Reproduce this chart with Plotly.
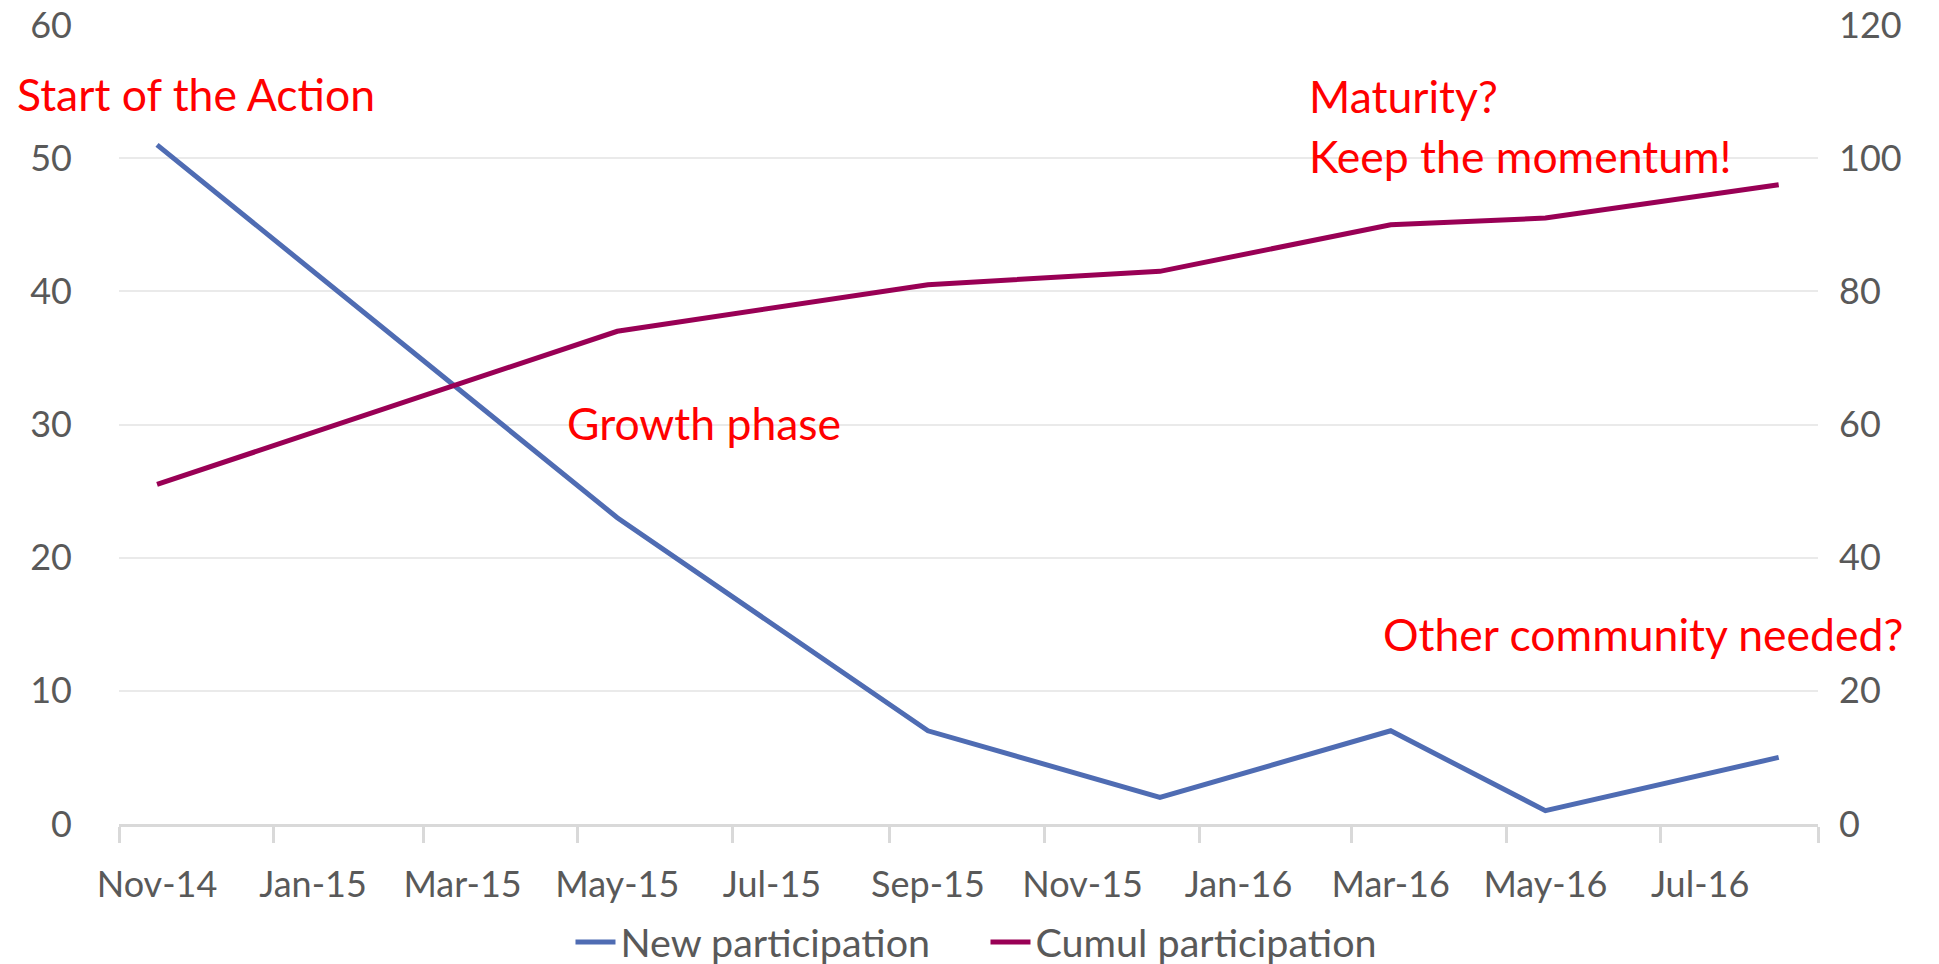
import pandas as pd
import plotly.graph_objects as go

# ---- data ----
months = ["2014-11", "2015-05", "2015-09", "2015-12", "2016-03", "2016-05", "2016-08"]
new_participation = [51, 23, 7, 2, 7, 1, 5]
cumul_participation = [51, 74, 81, 83, 90, 91, 96]
tick_months = ["2014-11", "2015-01", "2015-03", "2015-05", "2015-07", "2015-09",
               "2015-11", "2016-01", "2016-03", "2016-05", "2016-07"]
tick_labels = ["Nov-14", "Jan-15", "Mar-15", "May-15", "Jul-15", "Sep-15",
               "Nov-15", "Jan-16", "Mar-16", "May-16", "Jul-16"]
axis_end_month = "2016-09"

FONT = "Lato, Carlito, Calibri, sans-serif"
GREY = "#595959"
RED = "#FF0000"

starts = [pd.Timestamp(m + "-01") for m in tick_months]
mids = [s + (s + pd.offsets.MonthBegin(1) - s) / 2 for s in starts]
minor_vals = [s.strftime("%Y-%m-%d") for s in starts] + [axis_end_month + "-01"]

fig = go.Figure()
fig.add_trace(go.Scatter(
    x=months, y=new_participation, name="New participation", mode="lines",
    xperiod="M1", xperiodalignment="middle",
    line=dict(color="#4F6CB3", width=5), yaxis="y"))
fig.add_trace(go.Scatter(
    x=months, y=cumul_participation, name="Cumul participation", mode="lines",
    xperiod="M1", xperiodalignment="middle",
    line=dict(color="#990055", width=5), yaxis="y2"))

fig.update_layout(
    width=1939, height=964,
    margin=dict(l=119, r=121, t=25, b=140, autoexpand=False),
    paper_bgcolor="white", plot_bgcolor="white",
    font=dict(family=FONT, color=GREY, size=36),
    xaxis=dict(
        type="date", automargin=False,
        range=[tick_months[0] + "-01", axis_end_month + "-01"],
        tickmode="array",
        tickvals=[m.strftime("%Y-%m-%d %H:%M") for m in mids],
        ticktext=tick_labels,
        ticks="",
        ticklabelstandoff=27,
        showgrid=False,
        showline=True, linecolor="#D9D9D9", linewidth=3,
        tickfont=dict(size=36, color=GREY, family=FONT),
        minor=dict(tickmode="array", tickvals=minor_vals, ticks="outside",
                   ticklen=16, tickwidth=3, tickcolor="#D9D9D9", showgrid=False),
    ),
    yaxis=dict(
        range=[0, 60], dtick=10, showgrid=True, gridcolor="#EAEAEA", gridwidth=2,
        zeroline=False, showline=False, ticks="", automargin=False,
        ticklabelstandoff=46,
        tickfont=dict(size=36, color=GREY, family=FONT),
    ),
    yaxis2=dict(
        range=[0, 120], dtick=20, overlaying="y", side="right", showgrid=False,
        zeroline=False, showline=False, ticks="", automargin=False,
        ticklabelstandoff=20,
        tickfont=dict(size=36, color=GREY, family=FONT),
    ),
    legend=dict(orientation="h", x=0.51, xanchor="center", y=-0.148, yanchor="middle",
                font=dict(size=39.5, color=GREY, family=FONT), bgcolor="rgba(0,0,0,0)",
                itemwidth=40, entrywidth=360, entrywidthmode="pixels"),
    showlegend=True,
)

notes = [
    ("Start of the Action", -0.0612, 0.914),
    ("Growth phase", 0.2625, 0.503),
    ("Maturity?", 0.699, 0.912),
    ("Keep the momentum!", 0.699, 0.837),
    ("Other community needed?", 0.743, 0.239),
]
for text, xp, yp in notes:
    fig.add_annotation(text=text, xref="paper", yref="paper", x=xp, y=yp,
                       xanchor="left", yanchor="middle", showarrow=False,
                       font=dict(size=44.5, color=RED, family=FONT))

fig.write_html(
    "out.html",
    config={"displayModeBar": False},
    post_script="document.body.style.margin='0';document.body.style.overflow='hidden';",
)
